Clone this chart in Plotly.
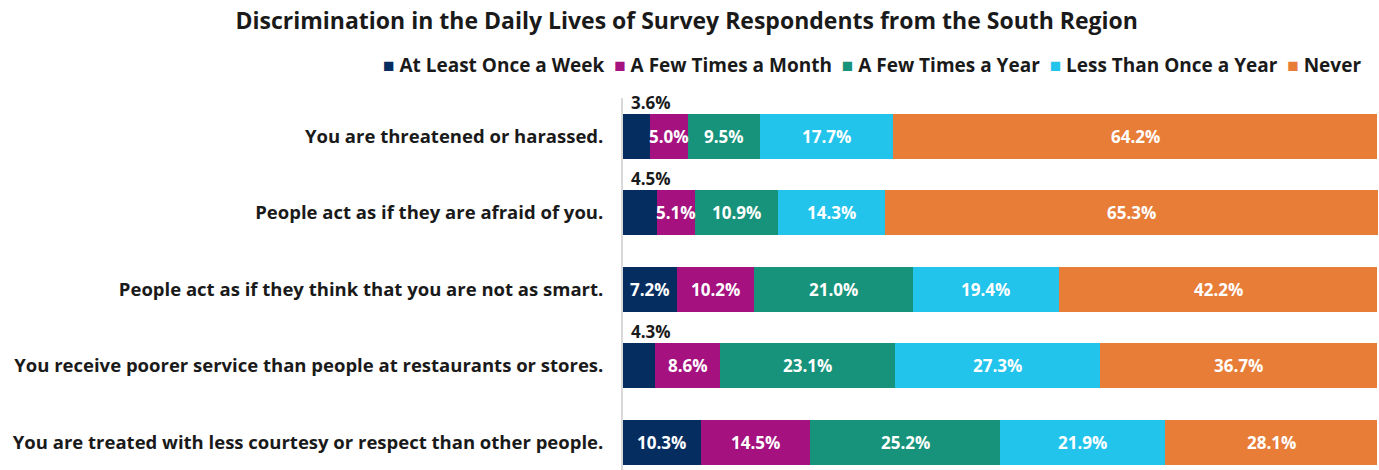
import plotly.graph_objects as go

# Survey items (top to bottom)
categories = [
    "You are threatened or harassed.",
    "People act as if they are afraid of you.",
    "People act as if they think that you are not as smart.",
    "You receive poorer service than people at restaurants or stores.",
    "You are treated with less courtesy or respect than other people.",
]

series_names = [
    "At Least Once a Week",
    "A Few Times a Month",
    "A Few Times a Year",
    "Less Than Once a Year",
    "Never",
]

at_least_weekly = [3.6, 4.5, 7.2, 4.3, 10.3]
few_monthly = [5.0, 5.1, 10.2, 8.6, 14.5]
few_yearly = [9.5, 10.9, 21.0, 23.1, 25.2]
less_than_yearly = [17.7, 14.3, 19.4, 27.3, 21.9]
never = [64.2, 65.3, 42.2, 36.7, 28.1]

series_values = [at_least_weekly, few_monthly, few_yearly, less_than_yearly, never]
colors = ["#062D5F", "#A5117F", "#16937A", "#22C4EC", "#E87D37"]

FONT = "Open Sans"
TEXT = "#1a1a1a"
# Segments narrower than this get their label above the bar
SMALL = 5.0

fig = go.Figure()
for name, vals, col in zip(series_names, series_values, colors):
    fig.add_trace(go.Bar(
        name=name, y=categories, x=vals, orientation="h",
        marker=dict(color=col, line=dict(width=0)),
        textposition="none", hoverinfo="x+name", showlegend=False,
    ))

annotations = []
for i, cat in enumerate(categories):
    left = 0.0
    for vals in series_values:
        v = vals[i]
        label = f"{v:.1f}%"
        if v < SMALL:
            annotations.append(dict(
                x=0, y=cat, xref="x", yref="y", text=label,
                showarrow=False, xanchor="left", xshift=6, yshift=34,
                font=dict(family=FONT, size=17, color=TEXT, weight="bold"),
            ))
        else:
            annotations.append(dict(
                x=left + v / 2, y=cat, xref="x", yref="y", text=label,
                showarrow=False, xanchor="center",
                font=dict(family=FONT, size=17, color="white", weight="bold"),
            ))
        left += v

# Compact one-line legend: coloured square followed by the series name
legend_html = "&nbsp; ".join(
    f'<span style="color:{c}">■</span> {n}' for n, c in zip(series_names, colors)
)
annotations.append(dict(
    x=0.33, y=1.089, xref="paper", yref="paper", text=legend_html,
    showarrow=False, xanchor="center", yanchor="middle",
    font=dict(family=FONT, size=19, color=TEXT, weight="bold"),
))

fig.update_layout(
    width=1379, height=470,
    margin=dict(l=623, r=1, t=98, b=0, autoexpand=False),
    barmode="stack", bargap=0.41,
    paper_bgcolor="white", plot_bgcolor="white",
    showlegend=False,
    title=dict(
        text="Discrimination in the Daily Lives of Survey Respondents from the South Region",
        x=0.498, xanchor="center", y=0.955, yanchor="middle",
        font=dict(family=FONT, size=23, color=TEXT, weight="bold"),
    ),
    xaxis=dict(range=[0, 100.1], visible=False, fixedrange=True),
    yaxis=dict(
        categoryorder="array", categoryarray=categories,
        range=[4.36, -0.5], showgrid=False, zeroline=False,
        showline=True, linecolor="#d9d9d9", linewidth=2,
        ticks="", ticklabelstandoff=14, automargin=False,
        tickfont=dict(family=FONT, size=18.5, color=TEXT, weight="bold"),
    ),
    annotations=annotations,
)

fig.write_html("out.html")
